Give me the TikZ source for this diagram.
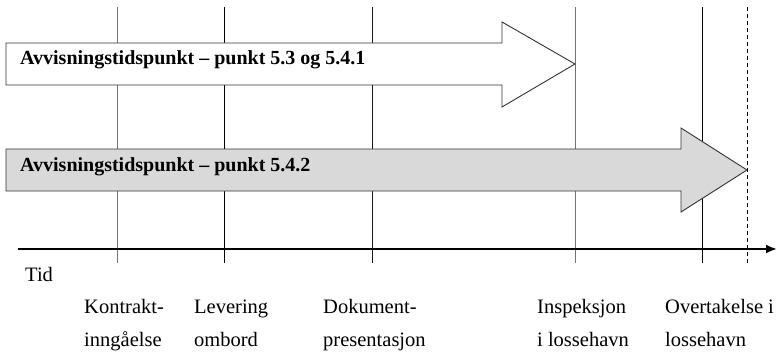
\documentclass[tikz,border=0pt]{standalone}
\usepackage{fontspec}
\setmainfont{Liberation Serif}
\usetikzlibrary{arrows.meta,positioning}
\definecolor{ArrowGray}{gray}{0.85}
\newcommand{\labelsize}{\fontsize{20.5}{33}\selectfont}
\tikzset{
  tick/.style={line width=0.9pt},
  bigarrow/.style={draw=black!80, line width=0.9pt, line join=miter},
  arrowtext/.style={anchor=base west, inner sep=0pt, font=\fontsize{20}{24}\selectfont\bfseries},
  when/.style={anchor=base west, align=left, inner sep=0pt, font=\labelsize},
}

\begin{document}
\begin{tikzpicture}[x=1pt, y=-1pt]
    \useasboundingbox (0,0) rectangle (777,353);

    % Draw the time marks
    \foreach \x/\c[count=\n from 0] in {117/black!55, 224/black, 372/black!90, 575/black!55, 702/black}{
        \coordinate (top\n) at (\x,7);
        \coordinate (bot\n) at (\x,263);
        \draw[tick, \c] (top\n) -- (bot\n);
    }
    % the dashed mark at the end
    \coordinate (top5) at (747,7);
    \coordinate (bot5) at (747,263);
    \draw[tick, dash pattern=on 4pt off 3pt] (top5) -- (bot5);

    % Draw the two big arrows
    \draw[bigarrow, fill=white] (6,43) -- (502,43) -- (502,22) -- (575,64)
        -- (502,107) -- (502,85) -- (6,85) -- cycle;
    \node[arrowtext] (rule1) at (20,65) {Avvisningstidspunkt – punkt 5.3 og 5.4.1};

    \draw[bigarrow, fill=ArrowGray] (6,149) -- (681,149) -- (681,128) -- (747,170)
        -- (681,212) -- (681,191) -- (6,191) -- cycle;
    \node[arrowtext] (rule2) at (20,171) {Avvisningstidspunkt – punkt 5.4.2};

    % Draw the time axis
    \coordinate (origin) at (18,249);
    \coordinate (later) at (777,249);
    \draw[line width=2pt, -{Latex[length=11pt,width=9pt]}] (origin) -- (later);

    % Labels under the axis (base is the last line)
    \node[when] (tid) at (25,281) {Tid};
    \node[when] (kontrakt) at (84,346) {Kontrakt-\\inngåelse};
    \node[when] (levering) at (194,346) {Levering\\ombord};
    \node[when] (dokument) at (323,346) {Dokument-\\presentasjon};
    \node[when] (inspeksjon) at (537,346) {Inspeksjon\\i lossehavn};
    \node[when] (overtakelse) at (665,346) {Overtakelse i\\lossehavn};
\end{tikzpicture}
\end{document}
